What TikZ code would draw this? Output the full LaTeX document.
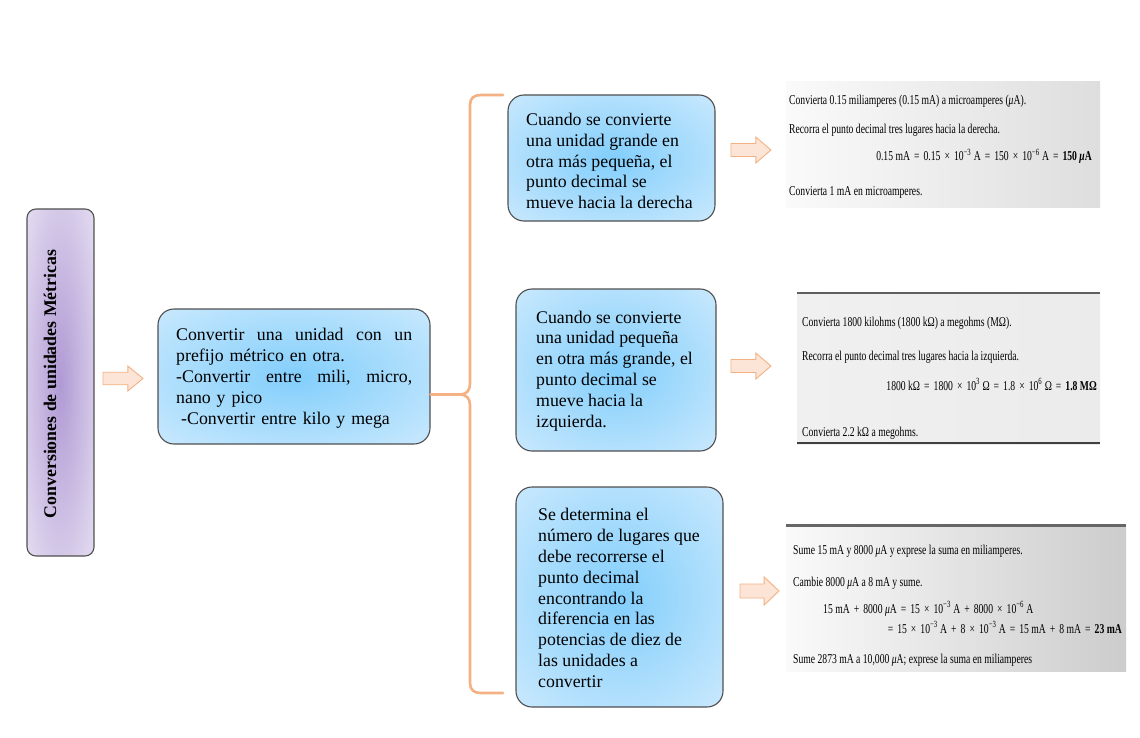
\documentclass[tikz,border=0pt]{standalone}
\usepackage{fontspec}
\setmainfont{Liberation Serif}
\newfontfamily\figfont{Liberation Serif}[FakeStretch=0.715]
\usetikzlibrary{calc}

\definecolor{blueIn}{RGB}{130,206,252}
\definecolor{blueOut}{RGB}{218,239,253}
\definecolor{boxEdge}{RGB}{80,80,80}
\definecolor{lilacIn}{RGB}{176,154,212}
\definecolor{lilacOut}{RGB}{238,233,246}
\definecolor{braceOrange}{RGB}{244,177,131}
\definecolor{arrowFill}{RGB}{252,228,214}
\definecolor{panelLeft}{RGB}{250,250,250}
\definecolor{panelRight}{RGB}{222,222,222}
\definecolor{panelRule}{RGB}{95,95,95}

\pgfdeclareradialshading{softblue}{\pgfpoint{0bp}{0bp}}{%
  color(0bp)=(blueIn); color(44bp)=(blueOut); color(50bp)=(blueOut)}
\pgfdeclareradialshading{softlilac}{\pgfpoint{0bp}{0bp}}{%
  color(0bp)=(lilacIn); color(42bp)=(lilacOut); color(50bp)=(lilacOut)}

% operator with generous spacing, as in the worked examples
\newcommand{\op}[1]{\hspace{0.30em}#1\hspace{0.30em}}
\newcommand{\ex}[1]{\textsuperscript{#1}}

% right-pointing block arrow: #1 name, #2 centre, #3 length, #4 head width
\newcommand{\blockarrow}[4]{%
  \coordinate (#1) at (#2);
  \draw[arrowshape] ($(#1)+(-#3/2,-#4/4)$) -- ++({#3*0.62},0) -- ++(0,-#4/4)
    -- ($(#1)+(#3/2,0)$) -- ($(#1)+({-#3/2+#3*0.62},#4/2)$) -- ++(0,-#4/4)
    -- ($(#1)+(-#3/2,#4/4)$) -- cycle;}

\tikzset{
  topic/.style={draw=boxEdge, line width=1.1pt, rounded corners=16pt,
    shading=softblue, inner sep=0pt},
  topictext/.style={align=left, inner sep=0pt, anchor=west,
    font=\fontsize{17.8}{20.9}\selectfont},
  titlebox/.style={draw=boxEdge, line width=1.1pt, rounded corners=9pt,
    shading=softlilac, inner sep=0pt},
  brace/.style={draw=braceOrange, line width=2.6pt, line cap=round},
  arrowshape/.style={draw=braceOrange, fill=arrowFill, line width=0.9pt,
    line join=miter},
  figline/.style={inner sep=0pt, anchor=base west,
    font=\figfont\fontsize{13.5}{15}\selectfont},
}

\begin{document}
\begin{tikzpicture}[x=1pt,y=-1pt]
\useasboundingbox (0,0) rectangle (1140,738);
\fill[white] (0,0) rectangle (1140,738);

% main title, vertical
\node[titlebox, minimum width=67pt, minimum height=347pt] (title) at (60.5,382.5) {};
\node[rotate=90, inner sep=0pt, font=\fontsize{17.8}{20}\selectfont\bfseries]
  (titletext) at (50,384) {Conversiones de unidades Métricas};

% central idea
\node[topic, minimum width=272pt, minimum height=135pt] (main) at (294,376.5) {};
\node[topictext, text width=236pt] (maintext) at (176,378) {%
  Convertir\hfill una\hfill unidad\hfill con\hfill un\\
  prefijo métrico en otra.\\
  -Convertir\hfill entre\hfill mili,\hfill micro,\\
  nano y pico\\
  \hspace*{5pt}-Convertir entre kilo y mega};

% three rules
\node[topic, minimum width=207pt, minimum height=126pt] (ruleA) at (611.5,158) {};
\node[topictext] (ruleAtext) at (526,161) {%
  Cuando se convierte\\
  una unidad grande en\\
  otra más pequeña, el\\
  punto decimal se\\
  mueve hacia la derecha};

\node[topic, minimum width=200pt, minimum height=162pt] (ruleB) at (616,370) {};
\node[topictext] (ruleBtext) at (536,371) {%
  Cuando se convierte\\
  una unidad pequeña\\
  en otra más grande, el\\
  punto decimal se\\
  mueve hacia la\\
  izquierda.};

\node[topic, minimum width=207pt, minimum height=220pt] (ruleC) at (619.5,597) {};
\node[topictext] (ruleCtext) at (538,598) {%
  Se determina el\\
  número de lugares que\\
  debe recorrerse el\\
  punto decimal\\
  encontrando la\\
  diferencia en las\\
  potencias de diez de\\
  las unidades a\\
  convertir};

% brace joining the central idea to the rules
\coordinate (cusp) at (461,394.5);
\draw[brace] (503,95) -- (481,95) .. controls (474,95) and (470,98) .. (470,105)
  -- (470,384) .. controls (470,391) and (466,394) .. (cusp)
  .. controls (466,395) and (470,398) .. (470,405)
  -- (470,683) .. controls (470,690) and (474,693) .. (481,693) -- (503,693);
\draw[brace] (main.east |- cusp) -- (cusp);

% block arrows
\blockarrow{arr0}{123,378.5}{40}{25}
\blockarrow{arr1}{751,150}{40}{26}
\blockarrow{arr2}{751,366}{40}{26}
\blockarrow{arr3}{759.5,591}{39}{28}

% worked example 1
\shade[left color=panelLeft, right color=panelRight] (786,82) rectangle (1100,208);
\node[figline] (p1a) at (789,105) {Convierta 0.15 miliamperes (0.15 mA) a microamperes (\textit{μ}A).};
\node[figline] (p1b) at (789,134) {Recorra el punto decimal tres lugares hacia la derecha.};
\node[figline, anchor=base east] (p1c) at (1092,161)
  {0.15 mA\op{=}0.15\op{×}10\ex{−3} A\op{=}150\op{×}10\ex{−6} A\op{=}\textbf{150 \textit{μ}A}};
\node[figline] (p1d) at (789,196) {Convierta 1 mA en microamperes.};

% worked example 2
\shade[left color=panelLeft!96!black, right color=panelRight!60!white] (797,292) rectangle (1100,444);
\draw[panelRule, line width=2pt] (797,293) -- (1100,293);
\draw[black!75, line width=1.6pt] (797,443) -- (1100,443);
\node[figline] (p2a) at (802,326) {Convierta 1800 kilohms (1800 kΩ) a megohms (MΩ).};
\node[figline] (p2b) at (802,360) {Recorra el punto decimal tres lugares hacia la izquierda.};
\node[figline, anchor=base east] (p2c) at (1097,390)
  {1800 kΩ\op{=}1800\op{×}10\ex{3} Ω\op{=}1.8\op{×}10\ex{6} Ω\op{=}\textbf{1.8 MΩ}};
\node[figline] (p2d) at (802,436) {Convierta 2.2 kΩ a megohms.};

% worked example 3
\shade[left color=panelLeft, right color=panelRight!92!black] (786,524) rectangle (1126,671);
\draw[black!60, line width=3pt] (786,525) -- (1126,525);
\node[figline] (p3a) at (793,554) {Sume 15 mA y 8000 \textit{μ}A y exprese la suma en miliamperes.};
\node[figline] (p3b) at (793,586) {Cambie 8000 \textit{μ}A a 8 mA y sume.};
\node[figline] (p3c) at (823,613)
  {15 mA\op{+}8000 \textit{μ}A\op{=}15\op{×}10\ex{−3} A\op{+}8000\op{×}10\ex{−6} A};
\node[figline, anchor=base east] (p3d) at (1122,633)
  {=\hspace{0.30em}15\op{×}10\ex{−3} A\op{+}8\op{×}10\ex{−3} A\op{=}15 mA\op{+}8 mA\op{=}\textbf{23 mA}};
\node[figline] (p3e) at (793,663) {Sume 2873 mA a 10,000 \textit{μ}A; exprese la suma en miliamperes};
\end{tikzpicture}
\end{document}
